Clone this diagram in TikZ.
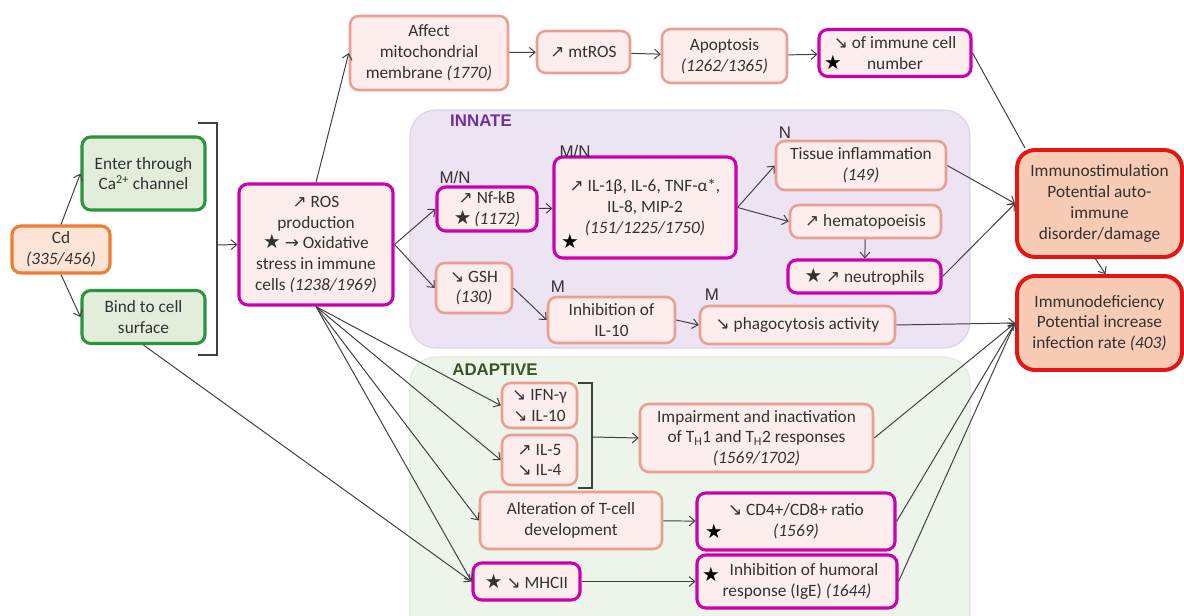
\documentclass[tikz,border=0pt]{standalone}
\usepackage{fontspec}
\setmainfont{Carlito}
\newfontfamily\symf{DejaVu Sans}
\newfontfamily\arialf{Liberation Sans}
\usetikzlibrary{arrows.meta}
\definecolor{txt}{RGB}{50,50,50}
\definecolor{pinkline}{RGB}{234,158,148}
\definecolor{pinkfill}{RGB}{253,237,236}
\definecolor{magline}{RGB}{204,0,176}
\definecolor{greenline}{RGB}{40,150,60}
\definecolor{greenfill}{RGB}{226,237,218}
\definecolor{orangeline}{RGB}{237,125,49}
\definecolor{orangefill}{RGB}{252,228,214}
\definecolor{redline}{RGB}{230,20,20}
\definecolor{redfill}{RGB}{248,203,180}
\definecolor{innfill}{RGB}{236,228,243}
\definecolor{innline}{RGB}{222,210,234}
\definecolor{adafill}{RGB}{237,244,233}
\definecolor{adaline}{RGB}{224,236,218}
\definecolor{innatetxt}{RGB}{112,48,160}
\definecolor{adaptxt}{RGB}{55,86,35}
\definecolor{conn}{RGB}{64,64,64}
\newcommand{\upA}{{\symf\fontsize{12}{12}\selectfont ↗}}
\newcommand{\dnA}{{\symf\fontsize{12}{12}\selectfont ↘}}
\newcommand{\rtA}{{\symf\fontsize{12}{12}\selectfont →}}
\newcommand{\stA}{{\symf\fontsize{14}{12}\selectfont ★}}
\begin{document}
\begin{tikzpicture}[x=0.025cm,y=-0.025cm,
  font=\fontsize{12.3}{14.8}\selectfont,
  boxw/.style={minimum width=#1*0.025cm},
  boxh/.style={minimum height=#1*0.025cm},
  base/.style={align=center,text=txt,inner sep=1pt,rounded corners=0.22cm},
  pinkb/.style={base,draw=pinkline,fill=pinkfill,line width=1.8pt},
  magb/.style={base,draw=magline,fill=pinkfill,line width=2.2pt},
  greenb/.style={base,draw=greenline,fill=greenfill,line width=2.2pt},
  orangeb/.style={base,draw=orangeline,fill=orangefill,line width=2.2pt},
  redb/.style={base,draw=redline,fill=redfill,line width=2.8pt,rounded corners=0.45cm},
  region/.style={rounded corners=0.65cm,line width=0.8pt},
  tag/.style={font=\arialf\fontsize{12}{14}\selectfont,text=txt,inner sep=0pt},
  head/.style={font=\arialf\bfseries\fontsize{12}{14}\selectfont,inner sep=0pt},
  arr/.style={draw=conn,line width=0.7pt,-{Straight Barb[length=4pt,width=7pt]}},
  ln/.style={draw=conn,line width=0.7pt},
  brk/.style={draw=conn,line width=0.9pt},
  starn/.style={inner sep=0pt,text=black}
]
\clip (0,0) rectangle (1184,616);
\fill[white] (0,0) rectangle (1184,616);

% regions
\draw[region,fill=innfill,draw=innline] (410,110) rectangle (970,348);
\draw[region,fill=adafill,draw=adaline] (410,357) rectangle (970,650);
\node[head,text=innatetxt] (innate) at (481,121) {INNATE};
\node[head,text=adaptxt] (adaptive) at (495,370) {ADAPTIVE};

% left part
\node[orangeb,boxw=98,boxh=47] (cd) at (61,249.5) {Cd\\\textit{(335/456)}};
\node[greenb,boxw=123,boxh=73] (enter) at (143.5,173.5) {Enter through\\Ca\textsuperscript{2+} channel};
\node[greenb,boxw=123,boxh=53] (bind) at (143.5,317) {Bind to cell\\surface};
\node[magb,boxw=154,boxh=121] (ros) at (316,244.5) {\upA\ ROS\\production\\\stA\ \rtA\ Oxidative\\stress in immune\\cells \textit{(1238/1969)}};

% top row
\node[pinkb,boxw=158,boxh=74] (affect) at (429,53) {Affect\\mitochondrial\\membrane \textit{(1770)}};
\node[pinkb,boxw=93,boxh=42] (mtros) at (583.5,52) {\upA\ mtROS};
\node[pinkb,boxw=125,boxh=54] (apop) at (724.5,56) {Apoptosis\\\textit{(1262/1365)}};
\node[magb,boxw=152,boxh=47] (immune) at (895,53) {\dnA\ of immune cell\\number};
\node[starn] (st1) at (833,62) {\stA};

% innate
\node[magb,boxw=100,boxh=44] (nfkb) at (487,209) {\upA\ Nf-kB\\\stA\,\textit{(1172)}};
\node[magb,boxw=182,boxh=101] (il) at (645,207.5) {\upA\ IL-1β, IL-6, TNF-α*,\\IL-8, MIP-2\\\textit{(151/1225/1750)}};
\node[starn] (st2) at (570,241) {\stA};
\node[pinkb,boxw=170,boxh=49] (tissue) at (861,165.5) {Tissue inflammation\\\textit{(149)}};
\node[pinkb,boxw=151,boxh=33] (hema) at (865.5,221.5) {\upA\ hematopoeisis};
\node[magb,boxw=153,boxh=33] (neut) at (864.5,276.5) {\stA\ \upA\ neutrophils};
\node[pinkb,boxw=76,boxh=50] (gsh) at (474,288) {\dnA\ GSH\\\textit{(130)}};
\node[pinkb,boxw=127,boxh=46] (inhib) at (611.5,320) {Inhibition of\\IL-10};
\node[pinkb,boxw=195,boxh=38] (phago) at (797.5,325) {\dnA\ phagocytosis activity};
\node[tag] (mn1) at (455,177) {M/N};
\node[tag] (mn2) at (575,151) {M/N};
\node[tag] (n1) at (785,133) {N};
\node[tag] (m1) at (558,287) {M};
\node[tag] (m2) at (712,295) {M};

% adaptive
\node[pinkb,boxw=75,boxh=45] (ifn) at (539.5,405.5) {\dnA\ IFN-γ\\\dnA\ IL-10};
\node[pinkb,boxw=75,boxh=50] (il5) at (539.5,460) {\upA\ IL-5\\\dnA\ IL-4};
\node[pinkb,boxw=233,boxh=68] (impair) at (756.5,438) {Impairment and inactivation\\of T\textsubscript{H}1 and T\textsubscript{H}2 responses\\\textit{(1569/1702)}};
\node[pinkb,boxw=182,boxh=57] (alter) at (571,520.5) {Alteration of T-cell\\development};
\node[magb,boxw=198,boxh=57] (cd4) at (796,521.5) {\dnA\ CD4+/CD8+ ratio\\\textit{(1569)}};
\node[starn] (st3) at (714,531) {\stA};
\node[magb,boxw=200,boxh=53] (humoral) at (797,581.5) {\hspace*{10pt}Inhibition of humoral\\response (IgE) \textit{(1644)}};
\node[starn] (st4) at (711,574) {\stA};
\node[magb,boxw=107,boxh=37] (mhc) at (526.5,581.5) {\stA\ \dnA\ MHCII};

% right
\node[redb,boxw=165,boxh=107] (stim) at (1099.5,203.5) {Immunostimulation\\Potential auto-\\immune\\disorder/damage};
\node[redb,boxw=165,boxh=94] (def) at (1099.5,323) {Immunodeficiency\\Potential increase\\infection rate \textit{(403)}};

% brackets
\coordinate (b1t) at (198,123);
\coordinate (b1tr) at (217,123);
\coordinate (b1br) at (217,355);
\coordinate (b1b) at (198,355);
\coordinate (b1m) at (217,245);
\draw[brk] (b1t) -- (b1tr) -- (b1br) -- (b1b);
\coordinate (b2t) at (578,383);
\coordinate (b2tr) at (592,383);
\coordinate (b2br) at (592,488);
\coordinate (b2b) at (578,488);
\coordinate (b2m) at (592,437);
\draw[brk] (b2t) -- (b2tr) -- (b2br) -- (b2b);

% connectors
\draw[arr] (cd.north) -- (enter.west);
\draw[arr] (cd.south) -- (bind.west);
\draw[arr] (b1m) -- (ros.west);
\draw[arr] (ros.north) -- (affect.west);
\draw[arr] (affect) -- (mtros);
\draw[arr] (mtros) -- (apop);
\draw[arr] (apop) -- (immune);
\draw[ln] (immune.east) -- ([xshift=0.25cm]stim.north west);
\draw[arr] (ros.east) -- (nfkb.west);
\draw[arr] (ros.east) -- (gsh.west);
\draw[arr] (nfkb) -- (il);
\draw[arr] (il.east) -- (tissue.west);
\draw[arr] (il.east) -- (hema.west);
\draw[arr] (hema) -- (neut);
\draw[arr] (gsh.east) -- (inhib.west);
\draw[arr] (inhib.east) -- (phago.west);
\draw[arr] (ros.south) -- (ifn.west);
\draw[arr] (ros.south) -- (il5.west);
\draw[arr] (ros.south) -- (alter.west);
\draw[arr] (ros.south) -- (mhc.west);
\draw[arr] (bind.south) -- (mhc.west);
\draw[arr] (b2m) -- (impair.west);
\draw[arr] (alter) -- (cd4);
\draw[arr] (mhc) -- (humoral);
\draw[arr] (tissue.east) -- (stim.west);
\draw[arr] (neut.east) -- (stim.west);
\draw[arr] ([xshift=-0.1cm]stim.south) -- ([xshift=0.15cm]def.north);
\draw[arr] (phago.east) -- (def.west);
\draw[arr] (impair.east) -- (def.west);
\draw[arr] (cd4.east) -- (def.west);
\draw[arr] (humoral.east) -- (def.west);
\end{tikzpicture}
\end{document}
